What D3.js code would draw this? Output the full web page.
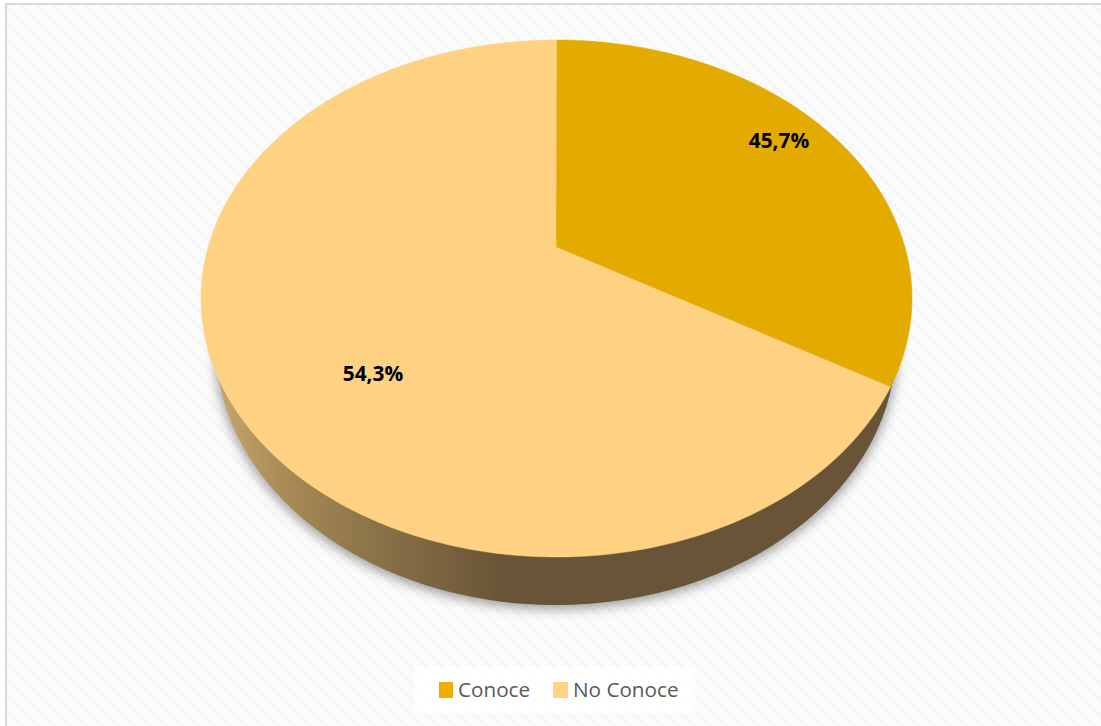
<!DOCTYPE html>
<html>
<head>
<meta charset="utf-8">
<script src="https://cdn.jsdelivr.net/npm/d3@7"></script>
<style>
  html, body { margin: 0; padding: 0; background: #fff; overflow: hidden; }
  svg { display: block; }
</style>
</head>
<body>
<svg id="chart" width="1101" height="726"></svg>
<script>
// Survey result: share of respondents who know / do not know the topic
const categories = ["Conoce", "No Conoce"];
const shares = [45.7, 54.3];
const sliceColors = ["#e3ab00", "#ffd183"];
const swatchColors = ["#edb000", "#ffd486"];
const valueLabels = ["45,7%", "54,3%"];

const svg = d3.select("#chart");
const defs = svg.append("defs");

// Tilted disc geometry
const disc = { cx: 556.5, cy: 298.5, rx: 355.5, ry: 258.5 };
const base = { cx: 556, cy: 345, rx: 340, ry: 260 };
const hub = [556, 247];

// Woven sheet texture behind the plot
const weave = defs.append("pattern")
  .attr("id", "weave").attr("patternUnits", "userSpaceOnUse")
  .attr("width", 16).attr("height", 16);
weave.append("rect").attr("width", 16).attr("height", 16).attr("fill", "#fdfdfd");
[[0, 0], [4, 4], [8, 8], [12, 12], [8, 0], [12, 4], [0, 8], [4, 12]].forEach(([x, y], i) => {
  weave.append("rect").attr("x", x).attr("y", y)
    .attr("width", 5).attr("height", 5)
    .attr("fill", i < 4 ? "#f6f6f6" : "#fafafa");
});

const wallGradient = defs.append("linearGradient")
  .attr("id", "wall").attr("gradientUnits", "userSpaceOnUse")
  .attr("x1", 215).attr("x2", 900).attr("y1", 0).attr("y2", 0);
[[0, "#c9a76c"], [0.1, "#a98b56"], [0.25, "#877047"], [0.42, "#695437"], [1, "#695437"]]
  .forEach(([o, c]) => wallGradient.append("stop").attr("offset", o).attr("stop-color", c));

const blur = defs.append("filter").attr("id", "soft")
  .attr("x", "-10%").attr("y", "-10%").attr("width", "120%").attr("height", "120%");
blur.append("feGaussianBlur").attr("stdDeviation", 6);

// Page background and frame
svg.append("rect").attr("width", 1101).attr("height", 726).attr("fill", "#fff");
svg.append("rect").attr("x", 6).attr("y", 4).attr("width", 1100).attr("height", 730)
  .attr("fill", "url(#weave)").attr("stroke", "#d9d9d9").attr("stroke-width", 2);

// Drop shadow and side wall of the disc
svg.append("ellipse")
  .attr("cx", base.cx).attr("cy", base.cy + 4).attr("rx", base.rx + 1).attr("ry", base.ry)
  .attr("fill", "#000").attr("opacity", 0.38).attr("filter", "url(#soft)");
svg.append("ellipse")
  .attr("cx", base.cx).attr("cy", base.cy).attr("rx", base.rx).attr("ry", base.ry)
  .attr("fill", "url(#wall)");

// Slice angles come from the pie layout; the tilt foreshortens the far side,
// so layout angles pass through a power scale before landing on the rim.
const pie = d3.pie().sort(null).value(d => d);
const tilt = d3.scalePow().exponent(1.514)
  .domain([0, 2 * Math.PI]).range([0, 2 * Math.PI]);

const rimPoint = a => {
  const t = tilt(a);
  return [disc.cx + disc.rx * Math.sin(t), disc.cy - disc.ry * Math.cos(t)];
};
const outline = d3.line();

const slicePath = d => {
  const n = 180;
  const rim = d3.range(n + 1).map(i =>
    rimPoint(d.startAngle + (d.endAngle - d.startAngle) * i / n));
  return outline([hub, ...rim]) + "Z";
};

const arcs = pie(shares);
svg.append("g").selectAll("path").data(arcs).join("path")
  .attr("d", slicePath)
  .attr("fill", (d, i) => sliceColors[i])
  .attr("stroke", (d, i) => sliceColors[i])
  .attr("stroke-width", 0.5);

// Value labels sit on their slices
const labelAnchors = [[779, 141], [373, 374]];
svg.append("g").selectAll("text").data(valueLabels).join("text")
  .attr("x", (d, i) => labelAnchors[i][0])
  .attr("y", (d, i) => labelAnchors[i][1])
  .attr("dy", "0.35em")
  .attr("text-anchor", "middle")
  .attr("font-family", "'Open Sans', sans-serif")
  .attr("font-weight", 700)
  .attr("font-size", 20.8)
  .attr("fill", "#000")
  .text(d => d);

// Legend
const legend = svg.append("g");
legend.append("rect").attr("x", 415).attr("y", 667).attr("width", 280).attr("height", 46)
  .attr("fill", "#fff").attr("opacity", 0.85);
const legendX = [439, 553];
const items = legend.selectAll("g").data(categories).join("g")
  .attr("transform", (d, i) => `translate(${legendX[i]},682)`);
items.append("rect").attr("width", (d, i) => i ? 15 : 14).attr("height", 16)
  .attr("fill", (d, i) => swatchColors[i]);
items.append("text")
  .attr("x", (d, i) => i ? 20 : 19).attr("y", 8).attr("dy", "0.36em")
  .attr("font-family", "'Open Sans', sans-serif")
  .attr("font-size", 20.7)
  .attr("fill", "#595959")
  .text(d => d);
</script>
</body>
</html>
